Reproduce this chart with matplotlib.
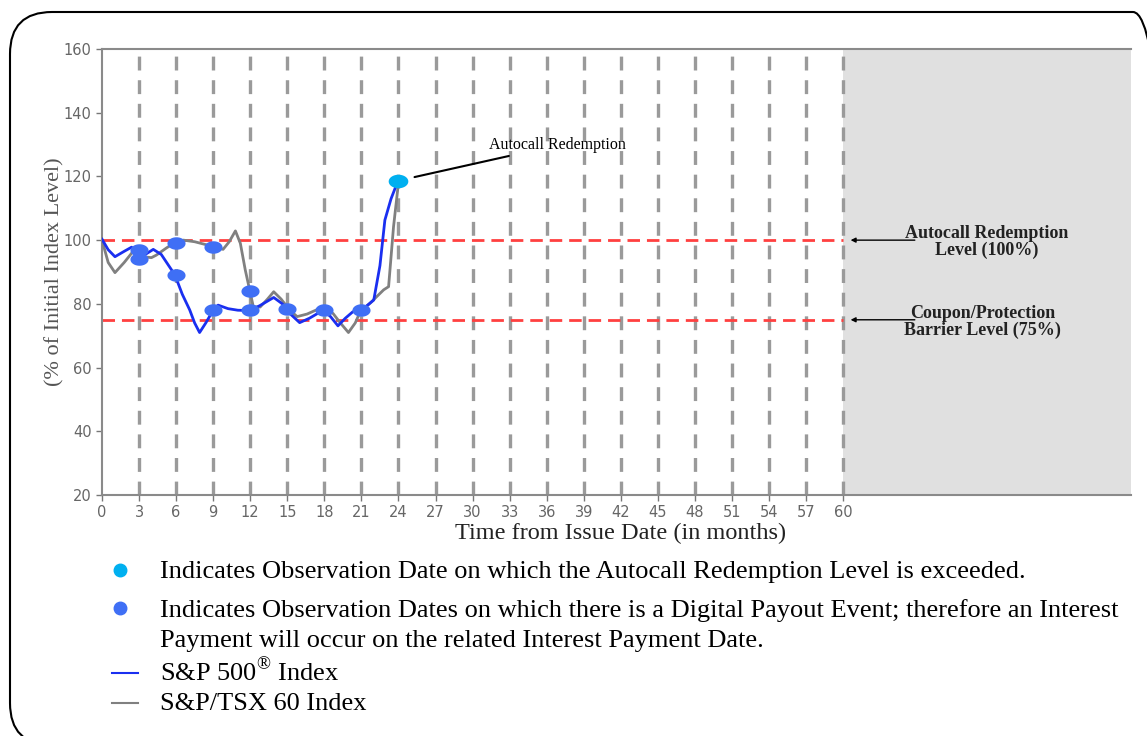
import numpy as np
import matplotlib
matplotlib.use("Agg")
import matplotlib.pyplot as plt
from matplotlib.patches import FancyBboxPatch
from matplotlib.lines import Line2D

plt.rcParams['lines.scale_dashes'] = False
plt.rcParams['mathtext.fontset'] = 'custom'
plt.rcParams['mathtext.rm'] = 'Liberation Serif'

# S&P 500 path (months, % of initial level)
sp500_months = [0, 0.5, 1.05, 1.8, 2.4, 2.94, 3.5, 4.15, 4.8, 5.4, 5.9, 6.5, 7.1, 7.5, 7.9,
                8.4, 9.0, 9.4, 10.2, 11.0, 12.0, 12.8, 13.9, 14.6, 15.2, 16.0, 16.8, 17.9,
                18.5, 19.1, 19.7, 20.3, 21.0, 22.0, 22.5, 22.9, 23.4, 23.9, 24]
sp500_values = [100.3, 97, 94.8, 96.5, 97.8, 94.3, 95.5, 97.1, 95.5, 92, 89.1, 83, 78.1, 74, 71.0,
                74, 78, 79.6, 78.5, 78, 77.9, 79.5, 82, 80, 77, 74.1, 75.5, 78,
                76, 73.1, 75.5, 77.5, 78, 81.2, 92, 106.3, 113, 118, 118.3]

# S&P/TSX 60 path
tsx_months = [0, 0.5, 1.05, 1.8, 2.5, 3.0, 3.35, 4.0, 4.4, 5.2, 6.0, 6.6, 7.5, 8.5, 9.3, 9.8,
              10.3, 10.8, 11.2, 11.6, 12.25, 12.8, 13.4, 13.9, 14.5, 15.2, 15.8, 16.6, 17.65,
              18.7, 19.3, 19.95, 20.5, 20.9, 21.7, 22.3, 22.8, 23.2, 23.6, 24]
tsx_values = [100, 93, 89.8, 93, 96.4, 96, 94.8, 94.5, 95.3, 97.5, 99.5, 100, 99.5, 98.5, 97.8, 97.1,
              99.5, 102.9, 99, 90.6, 79.1, 79, 81.5, 83.8, 81.5, 78, 76, 76.8, 78.6,
              77, 74, 71, 74, 77.5, 80.2, 82.5, 84.4, 85.4, 104.2, 118]

# observation markers
payout_months = [3, 3, 6, 6, 9, 9, 12, 12, 15, 18, 21]
payout_values = [97, 94, 99, 89, 98, 78, 84, 78, 78.5, 78, 78]
autocall_months = [24]
autocall_values = [118.5]

obs_months = np.arange(3, 61, 3)
x_ticks = np.arange(0, 61, 3)
y_ticks = np.arange(20, 161, 20)
autocall_level = 100
barrier_level = 75

fig = plt.figure(figsize=(11.47, 7.36), dpi=100)
ax = fig.add_axes([102/1147, 241/736, 1029/1147, 446/736])

xmax = 83.3
ax.set_xlim(0, xmax)
ax.set_ylim(20, 160)
ax.axvspan(60, xmax, color='#e0e0e0', zorder=0, lw=0)

for m in obs_months:
    ax.axvline(m, color='#9a9a9a', lw=2.4, dashes=(10, 7), zorder=1)

ax.plot([0, 60], [autocall_level] * 2, color='#ff4040', lw=2, dashes=(9, 5), zorder=2)
ax.plot([0, 60], [barrier_level] * 2, color='#ff4040', lw=2, dashes=(9, 5), zorder=2)

ax.plot(tsx_months, tsx_values, color='#808080', lw=2, zorder=3, solid_joinstyle='round')
ax.plot(sp500_months, sp500_values, color='#1a2ff0', lw=2, zorder=4, solid_joinstyle='round')

t = np.linspace(0, 2 * np.pi, 60)
ellipse = np.column_stack([1.45 * np.cos(t), np.sin(t)])
ax.scatter(payout_months, payout_values, marker=ellipse, s=170, color='#3f6ff5', lw=0, zorder=5)
ax.scatter(autocall_months, autocall_values, marker=ellipse, s=200, color='#00b0f0', lw=0, zorder=5)

ax.set_xticks(x_ticks)
ax.set_yticks(y_ticks)
ax.tick_params(colors='#777777', labelsize=10.5, length=4, width=1, labelcolor='#666666')
for side in ['left', 'bottom', 'top']:
    ax.spines[side].set_color('#8a8a8a')
    ax.spines[side].set_linewidth(1.5)
ax.spines['right'].set_visible(False)

ax.set_xlabel('Time from Issue Date (in months)', family='Liberation Serif', fontsize=17.5,
              color='#222222')
ax.xaxis.set_label_coords(0.504, -0.062)
ax.set_ylabel('(% of Initial Index Level)', family='Liberation Serif', fontsize=16,
              color='#555555')
ax.yaxis.set_label_coords(-0.036, 0.5)

# annotations
ax.annotate('Autocall Redemption', xy=(25.3, 119.8), xytext=(31.3, 129.8),
            family='Liberation Serif', fontsize=11.5, va='center', ha='left',
            arrowprops=dict(arrowstyle='-', color='black', lw=1.5, shrinkA=0, shrinkB=0))
ax.annotate('', xy=(60.6, autocall_level), xytext=(65.8, autocall_level),
            arrowprops=dict(arrowstyle='-|>', color='black', lw=1, mutation_scale=7,
                            shrinkA=0, shrinkB=0))
ax.annotate('', xy=(60.6, barrier_level), xytext=(65.8, barrier_level),
            arrowprops=dict(arrowstyle='-|>', color='black', lw=1, mutation_scale=7,
                            shrinkA=0, shrinkB=0))
ax.text(71.6, autocall_level - 0.6, 'Autocall Redemption\nLevel (100%)', family='Liberation Serif',
        fontsize=13, fontweight='bold', ha='center', va='center', color='#222222', linespacing=0.98)
ax.text(71.3, barrier_level - 0.6, 'Coupon/Protection\nBarrier Level (75%)', family='Liberation Serif',
        fontsize=13, fontweight='bold', ha='center', va='center', color='#222222', linespacing=0.98)

# key below the chart
def fy(py):
    return 1 - py / 736

fx_dot = 120 / 1147
fx_txt = 160 / 1147
fig.add_artist(Line2D([fx_dot], [fy(570)], marker='o', ms=9, color='#00b0f0', lw=0))
fig.add_artist(Line2D([fx_dot], [fy(608)], marker='o', ms=9, color='#3f6ff5', lw=0))
fig.add_artist(Line2D([112 / 1147, 138 / 1147], [fy(673)] * 2, color='#1a2ff0', lw=1.5))
fig.add_artist(Line2D([112 / 1147, 138 / 1147], [fy(703)] * 2, color='#808080', lw=1.5))

key_font = dict(family='Liberation Serif', fontsize=19, color='black', va='center', ha='left')
fig.text(fx_txt, fy(572), 'Indicates Observation Date on which the Autocall Redemption Level is exceeded.', **key_font)
fig.text(fx_txt, fy(611), 'Indicates Observation Dates on which there is a Digital Payout Event; therefore an Interest', **key_font)
fig.text(fx_txt, fy(641), 'Payment will occur on the related Interest Payment Date.', **key_font)
fig.text(fx_txt, fy(672), r'S&P 500$^{\mathrm{®}}$ Index', **key_font)
fig.text(fx_txt, fy(704), 'S&P/TSX 60 Index', **key_font)

# rounded outer frame
frame = FancyBboxPatch((0.10, -0.09), 11.65, 7.33,
                       boxstyle='round,pad=0,rounding_size=0.42',
                       transform=fig.dpi_scale_trans, fill=False, ec='black', lw=1.5)
fig.add_artist(frame)

fig.savefig('out.png', dpi=100)
